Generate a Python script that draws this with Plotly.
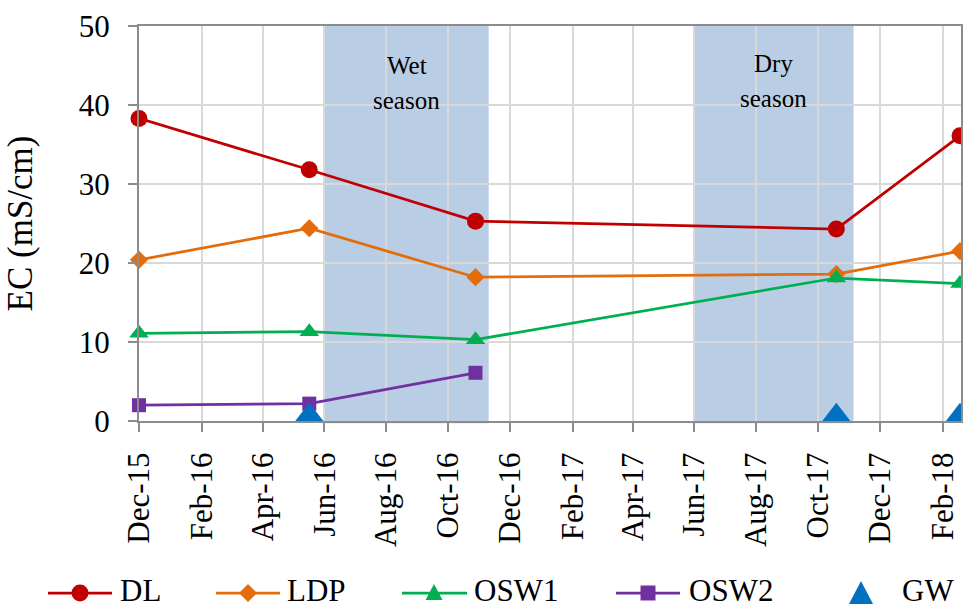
import plotly.graph_objects as go

# Sampling dates and electrical conductivity (mS/cm) per site
dates = ["2015-12-01", "2016-05-17", "2016-10-28", "2017-10-19", "2018-02-18"]
dl = [38.3, 31.8, 25.3, 24.3, 36.1]
ldp = [20.4, 24.4, 18.2, 18.6, 21.5]
osw1 = [11.1, 11.3, 10.3, 18.1, 17.4]
osw2_dates = ["2015-12-01", "2016-05-17", "2016-10-28"]
osw2 = [2.0, 2.2, 6.1]
gw_dates = ["2016-05-17", "2017-10-19", "2018-02-18"]
gw = [0.6, 0.6, 0.6]

# Season windows
wet_season = ("2016-06-01", "2016-11-10")
dry_season = ("2017-06-01", "2017-11-05")

FONT = "Liberation Serif"
LW = 2.75
W, H = 963, 610
ML, MR, MT, MB = 139, 2, 26, 189
PW, PH = W - ML - MR, H - MT - MB

COLORS = {"DL": "#C00000", "LDP": "#E46C0A", "OSW1": "#00B050",
          "OSW2": "#7030A0", "GW": "#0070C0"}

fig = go.Figure()

def add_series(x, y, name, symbol, size):
    c = COLORS[name]
    fig.add_trace(go.Scatter(
        x=x, y=y, name=name, mode="lines+markers",
        line=dict(color=c, width=LW),
        marker=dict(color=c, symbol=symbol, size=size),
        cliponaxis=False,
    ))

add_series(dates, dl, "DL", "circle", 17)
add_series(dates, ldp, "LDP", "diamond", 14)
add_series(dates, osw1, "OSW1", "triangle-up", 17)
add_series(osw2_dates, osw2, "OSW2", "square", 14)
fig.add_trace(go.Scatter(
    x=gw_dates, y=gw, name="GW", mode="markers",
    marker=dict(color=COLORS["GW"], symbol="triangle-up", size=27),
    cliponaxis=False,
))

# Shaded season bands
for x0, x1 in (wet_season, dry_season):
    fig.add_shape(type="rect", xref="x", yref="paper", x0=x0, x1=x1,
                  y0=-0.006, y1=1.005, fillcolor="#B9CDE5",
                  line=dict(width=0), layer="below")

def label(x, y, text):
    fig.add_annotation(x=x, y=y, xref="x", yref="y", text=text,
                       showarrow=False, font=dict(family=FONT, size=25, color="black"))

label("2016-08-21", 45.0, "Wet")
label("2016-08-21", 40.6, "season")
label("2017-08-18", 45.2, "Dry")
label("2017-08-18", 40.8, "season")

# Legend row below the axis: key line, key symbol and name per series
def px_x(px):
    return (px - ML) / PW

def px_y(py):
    return (H - MB - py) / PH

KEY_Y = 593
TEXT_Y = 590
legend_items = [
    # name, line start, line end, symbol centre, text start, symbol
    ("DL", 48, 112, 80, 118, "circle"),
    ("LDP", 216, 280, 248, 285, "diamond"),
    ("OSW1", 402, 467, 434, 472, "triangle"),
    ("OSW2", 616, 680, 648, 687, "square"),
    ("GW", None, None, 861, 900, "bigtriangle"),
]
yk = px_y(KEY_Y)
yt = px_y(TEXT_Y)
for name, xa, xb, xm, xt, sym in legend_items:
    c = COLORS[name]
    if xa is not None:
        fig.add_shape(type="line", xref="paper", yref="paper",
                      x0=px_x(xa), x1=px_x(xb), y0=yk, y1=yk,
                      line=dict(color=c, width=LW))
    common = dict(xref="paper", yref="paper", xsizemode="pixel", ysizemode="pixel",
                  xanchor=px_x(xm), yanchor=yk, fillcolor=c, line=dict(width=0))
    if sym == "circle":
        fig.add_shape(type="circle", x0=-8.5, x1=8.5, y0=-8.5, y1=8.5, **common)
    elif sym == "square":
        fig.add_shape(type="rect", x0=-7.5, x1=7.5, y0=-7.5, y1=7.5, **common)
    elif sym == "diamond":
        fig.add_shape(type="path", path="M -9,0 L 0,9 L 9,0 L 0,-9 Z", **common)
    elif sym == "triangle":
        fig.add_shape(type="path", path="M -8.5,-7 L 8.5,-7 L 0,9 Z", **common)
    else:
        fig.add_shape(type="path", path="M -12,-11 L 12,-11 L 0,12 Z", **common)
    fig.add_annotation(x=px_x(xt), y=yt, xref="paper", yref="paper", text=name,
                       xanchor="left", yanchor="middle", showarrow=False,
                       font=dict(family=FONT, size=31, color="black"))

fig.update_xaxes(
    type="date", range=["2015-12-01", "2018-02-19"],
    tick0="2015-12-01", dtick="M2", tickformat="%b-%y", tickangle=-90,
    showgrid=True, gridcolor="#D9D9D9", gridwidth=2,
    showline=True, linecolor="#8C8C8C", linewidth=2, mirror=True,
    ticks="outside", ticklen=9, tickwidth=2, tickcolor="#8C8C8C",
    ticklabelstandoff=8,
    tickfont=dict(family=FONT, size=31, color="black"),
    zeroline=False,
)
fig.update_yaxes(
    range=[0, 50], dtick=10,
    showgrid=True, gridcolor="#D9D9D9", gridwidth=2,
    showline=True, linecolor="#8C8C8C", linewidth=2, mirror=True,
    ticks="outside", ticklen=9, tickwidth=2, tickcolor="#8C8C8C",
    ticklabelstandoff=12,
    tickfont=dict(family=FONT, size=31, color="black"),
    title=dict(text="EC (mS/cm)", font=dict(family=FONT, size=35, color="black"), standoff=36),
    zeroline=False,
)

fig.update_layout(
    width=W, height=H,
    margin=dict(l=ML, r=MR, t=MT, b=MB, autoexpand=False),
    paper_bgcolor="white", plot_bgcolor="white",
    font=dict(family=FONT, size=31, color="black"),
    showlegend=False,
)

fig.write_html("out.html")
